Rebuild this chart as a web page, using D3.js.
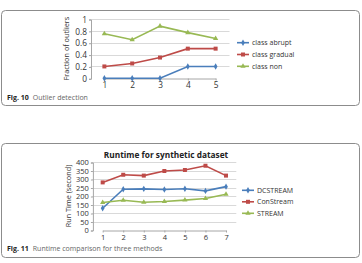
<!doctype html>
<html>
<head>
<meta charset="utf-8"/>
<title>Outlier detection / Runtime</title>
<script src="https://d3js.org/d3.v7.min.js"></script>
<style>
body { margin:0; background:#fff; }
text { font-family: "Open Sans", "DejaVu Sans", sans-serif; }
</style>
</head>
<body>
<script>
// ---- data, Fig. 10
var cats10 = ["1","2","3","4","5"];
var abrupt = [0, 0, 0, 0.2, 0.2];
var gradual = [0.2, 0.25, 0.35, 0.5, 0.5];
var non = [0.75, 0.65, 0.88, 0.77, 0.67];
var ticks10 = [0, 0.2, 0.4, 0.6, 0.8, 1];
var names10 = ["class abrupt", "class gradual", "class non"];

// ---- data, Fig. 11
var cats11 = ["1","2","3","4","5","6","7"];
var dcstream = [128, 240, 242, 238, 243, 230, 255];
var constream = [280, 325, 320, 347, 353, 378, 320];
var stream = [162, 175, 163, 168, 176, 185, 210];
var ticks11 = [0, 50, 100, 150, 200, 250, 300, 350, 400];
var names11 = ["DCSTREAM", "ConStream", "STREAM"];

var colors = ["#4a7ebb", "#be4b48", "#98b954"];
var shapes = [d3.symbolDiamond, d3.symbolSquare, d3.symbolTriangle];

var svg = d3.select("body").append("svg")
    .attr("width", 362).attr("height", 263);

// panel frames
svg.append("rect").attr("x", 1.5).attr("y", 10.5).attr("width", 358).attr("height", 95)
    .attr("rx", 4).attr("fill", "none").attr("stroke", "#8c8c8c").attr("stroke-width", 1);
svg.append("rect").attr("x", 1.5).attr("y", 143.5).attr("width", 358).attr("height", 114)
    .attr("rx", 4).attr("fill", "none").attr("stroke", "#8c8c8c").attr("stroke-width", 1);

function chart(o) {
  var x = d3.scalePoint().domain(o.cats).range([o.x0 + o.step/2, o.x1 - o.step/2]);
  var y = d3.scaleLinear().domain([0, o.max]).range([o.y0, o.y1]);
  var g = svg.append("g");

  // gridlines
  g.selectAll(".grid").data(o.ticks.slice(1)).enter().append("line")
    .attr("x1", o.x0).attr("x2", o.x1)
    .attr("y1", function(d){ return Math.round(y(d)) + 0.5; })
    .attr("y2", function(d){ return Math.round(y(d)) + 0.5; })
    .attr("stroke", "#d9d9d9");

  // y axis
  var ya = d3.axisLeft(y).tickValues(o.ticks).tickSize(2).tickPadding(2).tickFormat(o.fmt);
  var gy = g.append("g").attr("transform", "translate(" + (o.x0 + 0.5) + ",0.5)").call(ya);
  gy.select(".domain").attr("stroke", "#a6a6a6");
  gy.selectAll(".tick line").attr("stroke", "#a6a6a6");
  gy.selectAll("text").attr("font-size", o.fs).attr("fill", "#333").attr("font-family", o.font);

  // x axis
  var xa = d3.axisBottom(x).tickSize(2).tickSizeOuter(0).tickPadding(o.xpad);
  var gx = g.append("g").attr("transform", "translate(0," + (Math.round(o.y0) + 0.5) + ")").call(xa);
  gx.select(".domain").attr("stroke", "#a6a6a6");
  gx.selectAll(".tick line").attr("stroke", "#a6a6a6");
  gx.selectAll("text").attr("font-size", o.fs).attr("fill", "#333").attr("font-family", o.font);

  // axis title
  g.append("text")
    .attr("transform", "translate(" + o.tx + "," + ((o.y0 + o.y1)/2) + ") rotate(-90)")
    .attr("text-anchor", "middle").attr("font-size", o.tfs).attr("fill", "#333")
    .attr("font-family", o.font).text(o.ytitle);

  var line = d3.line().x(function(d,i){ return x(o.cats[i]); }).y(function(d){ return y(d); });
  o.series.forEach(function(s, k) {
    g.append("path").datum(s).attr("d", line).attr("fill", "none")
      .attr("stroke", colors[k]).attr("stroke-width", 1.6);
    g.selectAll(".m" + k).data(s).enter().append("path")
      .attr("transform", function(d,i){ return "translate(" + x(o.cats[i]) + "," + y(d) + ")"; })
      .attr("d", d3.symbol().type(shapes[k]).size(k == 1 ? 16 : 12))
      .attr("fill", colors[k]);
  });

  // legend
  o.names.forEach(function(n, k) {
    var ly = o.ly + k * o.lstep;
    g.append("line").attr("x1", o.lx).attr("x2", o.lx + 12).attr("y1", ly).attr("y2", ly)
      .attr("stroke", colors[k]).attr("stroke-width", 1.6);
    g.append("path").attr("transform", "translate(" + (o.lx + 6) + "," + ly + ")")
      .attr("d", d3.symbol().type(shapes[k]).size(k == 1 ? 16 : 12)).attr("fill", colors[k]);
    g.append("text").attr("x", o.lx + 15).attr("y", ly).attr("dy", "0.35em")
      .attr("font-size", o.lfs).attr("fill", "#333").attr("font-family", o.font).text(n);
  });
}

chart({
  cats: cats10, series: [abrupt, gradual, non], names: names10, ticks: ticks10, max: 1,
  fmt: function(d){ return d === 0 || d === 1 ? String(d) : d.toFixed(1); },
  x0: 90.5, x1: 229.5, step: 27.75, y0: 78.3, y1: 19,
  tx: 69, ytitle: "Fraction of outliers", fs: 8.3, tfs: 7.3, lfs: 7, font: "Open Sans",
  xpad: 1.5, lx: 237, ly: 42.7, lstep: 11.8
});

chart({
  cats: cats11, series: [dcstream, constream, stream], names: names11, ticks: ticks11, max: 400,
  fmt: d3.format("d"),
  x0: 92.4, x1: 236.3, step: 20.55, y0: 230, y1: 162,
  tx: 71, ytitle: "Run Time (second)", fs: 7.5, tfs: 7.3, lfs: 7, font: "Liberation Sans",
  xpad: 2, lx: 242, ly: 190.3, lstep: 11.5
});

svg.append("text").attr("x", 166).attr("y", 157.5).attr("text-anchor", "middle")
  .attr("font-family", "Liberation Sans").attr("font-size", 8.3).attr("font-weight", "bold")
  .attr("fill", "#222").text("Runtime for synthetic dataset");

// captions
function caption(y, label, txt) {
  var t = svg.append("text").attr("x", 7).attr("y", y).attr("font-size", 7).attr("fill", "#444");
  t.append("tspan").attr("font-weight", "bold").attr("fill", "#222").text(label);
  t.append("tspan").attr("dx", 4).attr("fill", "#666").text(txt);
}
caption(99.5, "Fig. 10", "Outlier detection");
caption(250.5, "Fig. 11", "Runtime comparison for three methods");
</script>
</body>
</html>
